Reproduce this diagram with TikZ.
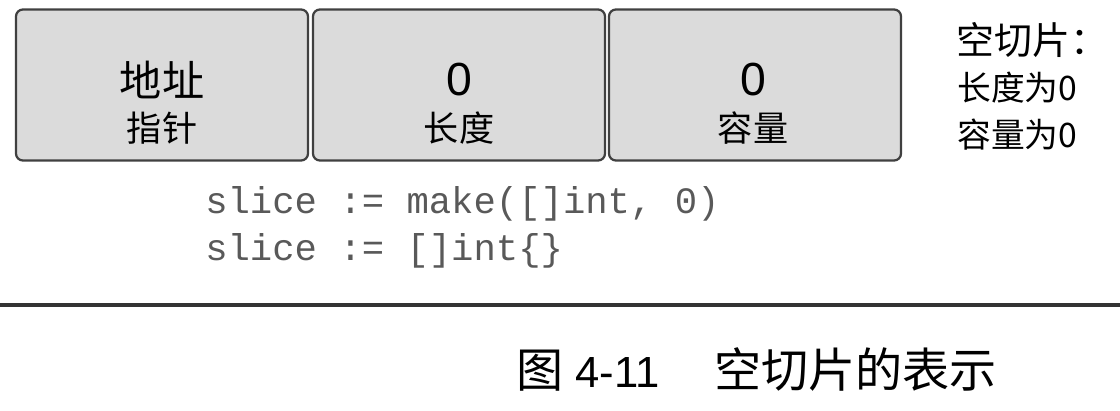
\documentclass[tikz,border=0pt]{standalone}
\usepackage{fontspec}
\setmainfont{Liberation Sans}
\setmonofont{Liberation Mono}
\newfontfamily\cjk{Noto Sans CJK SC}
\usetikzlibrary{positioning}

\begin{document}
\begin{tikzpicture}[x=0.025cm,y=-0.025cm]

            % Define styles
            \tikzstyle{field} = [rectangle, draw=black!75, line width=1.6pt, rounded corners=5pt, fill=black!14, minimum width=7.3cm, minimum height=3.775cm, inner sep=0pt]
            \tikzstyle{fieldval} = [inner sep=0pt, font=\fontsize{33}{38}\selectfont]
            \tikzstyle{fieldname} = [inner sep=0pt, font=\cjk\fontsize{25}{30}\selectfont]
            \tikzstyle{notetext} = [inner sep=0pt, anchor=west, font=\cjk\fontsize{24}{28}\selectfont]
            \tikzstyle{codetext} = [inner sep=0pt, anchor=base west, text=black!65, font=\ttfamily\fontsize{26.5}{30}\selectfont]

            \useasboundingbox (0,0) rectangle (1120,410);

            % Slice header fields
            \node[field] (ptr) at (162, 85) {};
            \node[field] (len) at (459, 85) {};
            \node[field] (cap) at (755, 85) {};

            % Field texts
            \node[fieldname, font=\cjk\fontsize{30}{36}\selectfont] (ptrval) at (162, 80) {地址};
            \node[fieldname] (ptrname) at (162, 128) {指针};
            \node[fieldval] (lenval) at (459, 80) {0};
            \node[fieldname] (lenname) at (459, 128) {长度};
            \node[fieldval] (capval) at (753, 80) {0};
            \node[fieldname] (capname) at (753, 128) {容量};

            % Note on the right
            \node[notetext, font=\cjk\fontsize{27}{32}\selectfont] (title) at (956, 40) {空切片：};
            \node[notetext] (lennote) at (957, 88) {长度为0};
            \node[notetext] (capnote) at (957, 135) {容量为0};

            % Code
            \node[codetext] (make) at (205, 213) {slice := make([]int, 0)};
            \node[codetext] (lit) at (205, 260) {slice := []int\{\}};

            % Rule and caption
            \coordinate (ruleL) at (0, 305);
            \coordinate (ruleR) at (1120, 305);
            \draw[line width=3pt, black!80] (ruleL) -- (ruleR);
            \node[anchor=base west, inner sep=0pt, font=\fontsize{31}{36}\selectfont] (caption) at (516, 387) {{\cjk\fontsize{33.5}{38}\selectfont 图} 4-11\hspace{1.25em}{\cjk\fontsize{33.5}{38}\selectfont 空切片的表示}};

        \end{tikzpicture}
\end{document}
